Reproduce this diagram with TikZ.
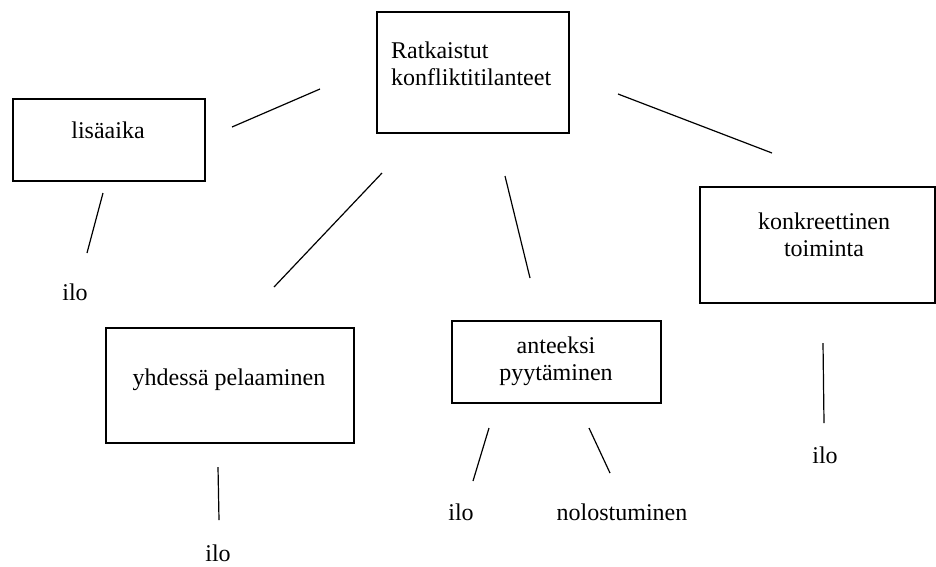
\documentclass[tikz,border=0pt]{standalone}
\usepackage{fontspec}
\setmainfont{Liberation Serif}

\tikzset{
	box/.style={draw, line width=1.2pt, inner sep=0pt},
	lbl/.style={inner sep=0pt, font=\fontsize{24}{27}\selectfont},
	link/.style={line width=1.2pt}
}

\begin{document}
\begin{tikzpicture}[x=1pt, y=-1pt]
	\useasboundingbox (0,0) rectangle (936,566);

	% boxes
	\node [box, minimum width=192, minimum height=121] (ratk) at (473,72.5) {};
	\node [box, minimum width=192, minimum height=82] (lisa) at (109,140) {};
	\node [box, minimum width=248, minimum height=115] (yhd) at (230,385.5) {};
	\node [box, minimum width=209, minimum height=82] (ant) at (556.5,362) {};
	\node [box, minimum width=235, minimum height=116] (konk) at (817.5,245) {};

	% texts
	\node [lbl, anchor=base west, align=left] (ratkT) at (391,85) {Ratkaistut \\ konfliktitilanteet};
	\node [lbl, anchor=base] (lisaT) at (108,138) {lisäaika};
	\node [lbl, anchor=base] (yhdT) at (229,385) {yhdessä pelaaminen};
	\node [lbl, anchor=base, align=center] (antT) at (556,380) {anteeksi \\ pyytäminen};
	\node [lbl, anchor=base, align=center] (konkT) at (824,256) {konkreettinen \\ toiminta};
	\node [lbl, anchor=base] (ilo1) at (75,300) {ilo};
	\node [lbl, anchor=base] (ilo2) at (218,561) {ilo};
	\node [lbl, anchor=base] (ilo3) at (461,520) {ilo};
	\node [lbl, anchor=base] (nolo) at (622,520) {nolostuminen};
	\node [lbl, anchor=base] (ilo4) at (825,463) {ilo};

	% line ends
	\coordinate (r1) at (320,89);   \coordinate (l1) at (232,127);
	\coordinate (r2) at (382,173);  \coordinate (y1) at (274,287);
	\coordinate (r3) at (505,176);  \coordinate (a1) at (530,278);
	\coordinate (r4) at (618,94);   \coordinate (k1) at (772,153);
	\coordinate (l2) at (103,193);  \coordinate (i1) at (87,253);
	\coordinate (y2) at (218,467);  \coordinate (i2) at (219,520);
	\coordinate (a2) at (489,428);  \coordinate (i3) at (473,481);
	\coordinate (a3) at (589,428);  \coordinate (n1) at (610,473);
	\coordinate (k2) at (823,343);  \coordinate (i4) at (824,423);

	\draw [link] (r1) -- (l1);
	\draw [link] (r2) -- (y1);
	\draw [link] (r3) -- (a1);
	\draw [link] (r4) -- (k1);
	\draw [link] (l2) -- (i1);
	\draw [link] (y2) -- (i2);
	\draw [link] (a2) -- (i3);
	\draw [link] (a3) -- (n1);
	\draw [link] (k2) -- (i4);
\end{tikzpicture}
\end{document}
